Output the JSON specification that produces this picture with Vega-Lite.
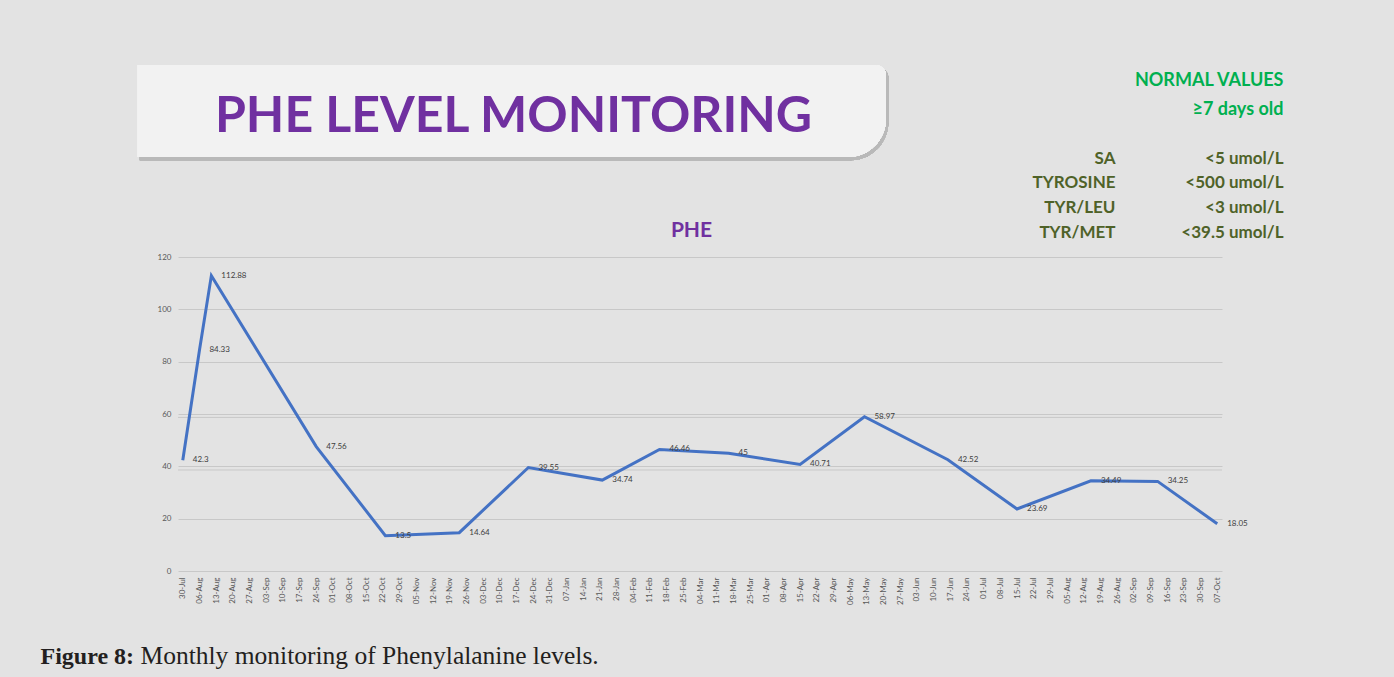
{
  "$schema": "https://vega.github.io/schema/vega-lite/v6.json",
  "width": 1044,
  "height": 314,
  "autosize": {"type": "none"},
  "padding": {"left": 178, "top": 257, "right": 172, "bottom": 106},
  "background": "#e3e3e3",
  "config": {"view": {"stroke": null}, "font": "Lato"},
  "data": {
    "values": [
      {"date": "2018-07-30", "value": 42.3},
      {"date": "2018-08-06", "value": 84.33},
      {"date": "2018-08-11", "value": 112.88},
      {"date": "2018-09-24", "value": 47.56},
      {"date": "2018-10-23", "value": 13.5},
      {"date": "2018-11-23", "value": 14.64},
      {"date": "2018-12-22", "value": 39.55},
      {"date": "2019-01-22", "value": 34.74},
      {"date": "2019-02-15", "value": 46.46},
      {"date": "2019-03-16", "value": 45},
      {"date": "2019-04-15", "value": 40.71},
      {"date": "2019-05-12", "value": 58.97},
      {"date": "2019-06-16", "value": 42.52},
      {"date": "2019-07-15", "value": 23.69},
      {"date": "2019-08-15", "value": 34.49},
      {"date": "2019-09-12", "value": 34.25},
      {"date": "2019-10-07", "value": 18.05}
    ]
  },
  "resolve": {"axis": {"x": "independent", "y": "independent"}},
  "layer": [
    {
      "mark": {"type": "rect", "color": "#b9b9b9", "opacity": 0.8, "cornerRadiusTopRight": 10, "cornerRadiusBottomRight": 38},
      "encoding": {
        "x": {"datum": {"year": 2018, "month": 7, "date": 12, "utc": true}, "type": "temporal", "axis": null},
        "x2": {"datum": {"year": 2019, "month": 5, "date": 22, "utc": true}},
        "y": {"datum": 192.3, "type": "quantitative", "axis": null},
        "y2": {"datum": 157}
      }
    },
    {
      "mark": {"type": "rect", "color": "#f2f2f2", "cornerRadiusTopRight": 10, "cornerRadiusBottomRight": 38},
      "encoding": {
        "x": {"datum": {"year": 2018, "month": 7, "date": 11, "utc": true}, "type": "temporal", "axis": null},
        "x2": {"datum": {"year": 2019, "month": 5, "date": 21, "utc": true}},
        "y": {"datum": 193.4, "type": "quantitative", "axis": null},
        "y2": {"datum": 158.2}
      }
    },
    {
      "data": {"values": [{"ref": 58.7}, {"ref": 38.6}]},
      "mark": {"type": "rule", "color": "#c8c8c8", "strokeWidth": 1},
      "encoding": {"y": {"field": "ref", "type": "quantitative", "axis": null}}
    },
    {
      "mark": {"type": "line", "color": "#4472c4", "strokeWidth": 3},
      "encoding": {
        "x": {
          "field": "date", "type": "temporal",
          "scale": {"type": "utc", "domain": [1532736000000, 1570579200000]},
          "axis": {
            "values": [1532908800000,1533513600000,1534118400000,1534723200000,1535328000000,1535932800000,1536537600000,1537142400000,1537747200000,1538352000000,1538956800000,1539561600000,1540166400000,1540771200000,1541376000000,1541980800000,1542585600000,1543190400000,1543795200000,1544400000000,1545004800000,1545609600000,1546214400000,1546819200000,1547424000000,1548028800000,1548633600000,1549238400000,1549843200000,1550448000000,1551052800000,1551657600000,1552262400000,1552867200000,1553472000000,1554076800000,1554681600000,1555286400000,1555891200000,1556496000000,1557100800000,1557705600000,1558310400000,1558915200000,1559520000000,1560124800000,1560729600000,1561334400000,1561939200000,1562544000000,1563148800000,1563753600000,1564358400000,1564963200000,1565568000000,1566172800000,1566777600000,1567382400000,1567987200000,1568592000000,1569196800000,1569801600000,1570406400000],
            "format": "%d-%b",
            "labelAngle": 270,
            "labelFontSize": 8,
            "labelColor": "#595959",
            "labelPadding": 6,
            "labelOverlap": false,
            "labelFlush": false,
            "labelBound": false,
            "ticks": false,
            "domain": false,
            "grid": false,
            "title": "Figure 8:",
            "titleX": -138,
            "titleY": 92,
            "titleAlign": "left",
            "titleBaseline": "alphabetic",
            "titleFont": "Liberation Serif",
            "titleFontSize": 24,
            "titleFontWeight": "bold",
            "titleColor": "#231f20"
          }
        },
        "y": {
          "field": "value", "type": "quantitative",
          "scale": {"domain": [0, 120]},
          "axis": {
            "values": [0, 20, 40, 60, 80, 100, 120],
            "grid": true,
            "gridColor": "#c8c8c8",
            "domain": false,
            "ticks": false,
            "labelFontSize": 8,
            "labelColor": "#595959",
            "labelPadding": 7,
            "title": null
          }
        }
      }
    },
    {
      "mark": {"type": "text", "align": "left", "baseline": "middle", "dx": 10, "fontSize": 8, "color": "#404040"},
      "encoding": {
        "x": {"field": "date", "type": "temporal", "axis": null},
        "y": {"field": "value", "type": "quantitative", "axis": null},
        "text": {"field": "value", "type": "quantitative"}
      }
    },
    {
      "mark": {"type": "point", "opacity": 0},
      "encoding": {
        "x": {"field": "date", "type": "temporal", "axis": {"orient": "top", "zindex": 2, "labels": false, "ticks": false, "domain": false, "grid": false, "title": "PHE", "titleX": 513, "titleY": -21, "titleAlign": "center", "titleBaseline": "alphabetic", "titleFont": "Lato", "titleFontSize": 21, "titleFontWeight": "bold", "titleColor": "#7030a0"}},
        "y": {"field": "value", "type": "quantitative", "axis": {"orient": "right", "zindex": 2, "labels": false, "ticks": false, "domain": false, "grid": false, "title": ["NORMAL VALUES", "≥7 days old"], "titleX": 61, "titleY": -171.5, "titleAngle": 0, "titleAlign": "right", "titleBaseline": "alphabetic", "titleLineHeight": 29, "titleFont": "Lato", "titleFontSize": 18, "titleFontWeight": "bold", "titleColor": "#00b050"}}
      }
    },
    {
      "mark": {"type": "point", "opacity": 0},
      "encoding": {
        "x": {"field": "date", "type": "temporal", "axis": {"orient": "top", "zindex": 2, "labels": false, "ticks": false, "domain": false, "grid": false, "title": "PHE LEVEL MONITORING", "titleX": 335, "titleY": -126, "titleAlign": "center", "titleBaseline": "alphabetic", "titleFont": "Lato", "titleFontSize": 50, "titleFontWeight": "bold", "titleColor": "#7030a0"}},
        "y": {"field": "value", "type": "quantitative", "axis": {"orient": "right", "zindex": 2, "labels": false, "ticks": false, "domain": false, "grid": false, "title": ["SA", "TYROSINE", "TYR/LEU", "TYR/MET"], "titleX": -107, "titleY": -94, "titleAngle": 0, "titleAlign": "right", "titleBaseline": "alphabetic", "titleLineHeight": 24.7, "titleFont": "Lato", "titleFontSize": 17, "titleFontWeight": "bold", "titleColor": "#4f6228"}}
      }
    },
    {
      "mark": {"type": "point", "opacity": 0},
      "encoding": {
        "x": {"field": "date", "type": "temporal", "axis": {"orient": "bottom", "zindex": 2, "labels": false, "ticks": false, "domain": false, "grid": false, "title": "Monthly monitoring of Phenylalanine levels.", "titleX": -38, "titleY": 92, "titleAlign": "left", "titleBaseline": "alphabetic", "titleFont": "Liberation Serif", "titleFontSize": 25.5, "titleFontWeight": "normal", "titleColor": "#231f20"}},
        "y": {"field": "value", "type": "quantitative", "axis": {"orient": "right", "zindex": 2, "labels": false, "ticks": false, "domain": false, "grid": false, "title": ["<5 umol/L", "<500 umol/L", "<3 umol/L", "<39.5 umol/L"], "titleX": 61, "titleY": -94, "titleAngle": 0, "titleAlign": "right", "titleBaseline": "alphabetic", "titleLineHeight": 24.7, "titleFont": "Lato", "titleFontSize": 17, "titleFontWeight": "bold", "titleColor": "#4f6228"}}
      }
    }
  ]
}
